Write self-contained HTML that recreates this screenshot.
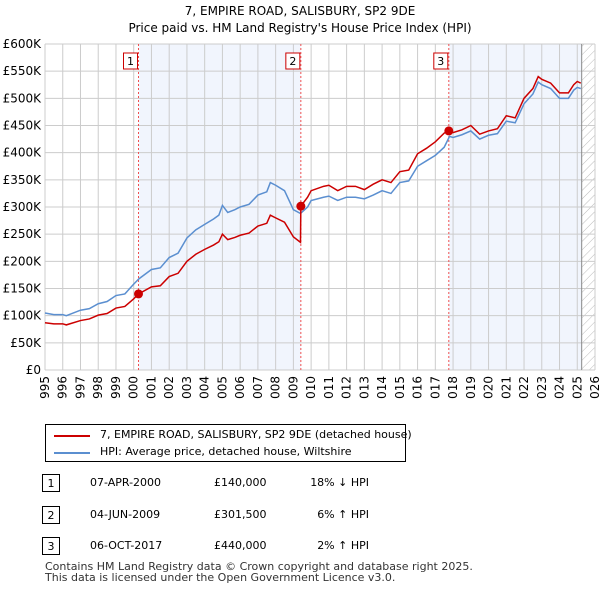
<!DOCTYPE html>
<html><head><meta charset="utf-8"><style>
body{margin:0;background:#fff;font-family:"DejaVu Sans","Liberation Sans",sans-serif;}
#wrap{position:relative;width:600px;height:590px;overflow:hidden}
.t{position:absolute;font-size:12px;color:#000;white-space:nowrap}
svg text{font-family:"DejaVu Sans","Liberation Sans",sans-serif}
</style></head><body>
<div id="wrap">
<svg id="chart" width="600" height="400" style="position:absolute;left:0;top:0">
<defs><pattern id="hatch" width="6" height="6" patternUnits="userSpaceOnUse" patternTransform="rotate(45)"><line x1="0" y1="0" x2="0" y2="6" stroke="#bbb" stroke-width="1"/></pattern></defs>
<text x="300" y="15" text-anchor="middle" font-size="12">7, EMPIRE ROAD, SALISBURY, SP2 9DE</text>
<text x="300" y="32" text-anchor="middle" font-size="12">Price paid vs. HM Land Registry's House Price Index (HPI)</text>
<g id="g"></g>
</svg>
<div style="position:absolute;left:45px;top:424px;width:361px;height:38px;border:1px solid #000;box-sizing:border-box">
 <div style="position:absolute;left:8px;top:10px;width:36px;height:2px;background:#cc0000"></div>
 <div class="t" style="left:54px;top:3px;font-size:11px">7, EMPIRE ROAD, SALISBURY, SP2 9DE (detached house)</div>
 <div style="position:absolute;left:8px;top:27px;width:36px;height:2px;background:#5b8fd0"></div>
 <div class="t" style="left:54px;top:20px;font-size:11px">HPI: Average price, detached house, Wiltshire</div>
</div>
<div id="tbl"></div>
<div class="t" style="left:45px;top:560px;font-size:11px;color:#333">Contains HM Land Registry data © Crown copyright and database right 2025.</div>
<div class="t" style="left:45px;top:571px;font-size:11px;color:#333">This data is licensed under the Open Government Licence v3.0.</div>
</div>
<script>
const yTicks=[0,50,100,150,200,250,300,350,400,450,500,550,600];
const yTickLabels=["£0","£50K","£100K","£150K","£200K","£250K","£300K","£350K","£400K","£450K","£500K","£550K","£600K"];
const xYears=[1995,1996,1997,1998,1999,2000,2001,2002,2003,2004,2005,2006,2007,2008,2009,2010,2011,2012,2013,2014,2015,2016,2017,2018,2019,2020,2021,2022,2023,2024,2025,2026];
const hpiT=[1995,1995.5,1996,1996.2,1997,1997.5,1998,1998.5,1999,1999.5,2000,2000.3,2001,2001.5,2002,2002.5,2003,2003.5,2004,2004.5,2004.8,2005,2005.3,2005.7,2006,2006.5,2007,2007.5,2007.7,2008,2008.5,2009,2009.4,2009.8,2010,2010.7,2011,2011.5,2012,2012.5,2013,2013.5,2014,2014.5,2015,2015.5,2016,2016.5,2017,2017.5,2017.8,2018,2018.5,2019,2019.5,2020,2020.5,2021,2021.5,2022,2022.5,2022.8,2023,2023.5,2024,2024.5,2024.8,2025,2025.2];
const hpiV=[105,102,102,100,110,113,122,126,137,140,158,168,185,188,207,215,243,258,268,278,285,303,290,295,300,305,322,328,345,340,330,295,288,300,312,318,320,312,318,318,315,322,330,325,345,348,375,385,395,410,430,428,433,440,425,432,435,458,455,490,508,530,525,518,500,500,515,520,518];
const redT=[1995,1995.5,1996,1996.2,1997,1997.5,1998,1998.5,1999,1999.5,2000,2000.27,2001,2001.5,2002,2002.5,2003,2003.5,2004,2004.5,2004.8,2005,2005.3,2005.7,2006,2006.5,2007,2007.5,2007.7,2008,2008.5,2009,2009.4,2009.42,2009.8,2010,2010.7,2011,2011.5,2012,2012.5,2013,2013.5,2014,2014.5,2015,2015.5,2016,2016.5,2017,2017.5,2017.76,2018,2018.5,2019,2019.5,2020,2020.5,2021,2021.5,2022,2022.5,2022.8,2023,2023.5,2024,2024.5,2024.8,2025,2025.2];
const redV=[87,85,85,83,91,94,101,104,114,117,131,140,153,155,172,178,200,213,222,230,236,250,240,244,248,252,265,270,285,280,272,245,235,301.5,318,330,338,340,330,338,338,332,342,350,345,365,368,398,408,420,436,440,437,442,450,434,440,444,468,464,500,518,540,535,528,510,510,525,531,528];
const saleT=[2000.27,2009.42,2017.76];
const saleV=[140,301.5,440];
const saleLabels=["1","2","3"];
const saleDates=["07-APR-2000","04-JUN-2009","06-OCT-2017"];
const salePrices=["£140,000","£301,500","£440,000"];
const saleHpi=["18% ↓ HPI","6% ↑ HPI","2% ↑ HPI"];
const L=45,R=595,T=44,B=370,dataEnd=2025.25;
const X=t=>L+(t-1995)/(2026-1995)*(R-L);
const Y=v=>B-v/600*(B-T);
const NS="http://www.w3.org/2000/svg";
const g=document.getElementById('g');
function mk(tag,attrs,name,parent){const e=document.createElementNS(NS,tag);for(const k in attrs)e.setAttribute(k,attrs[k]);


(parent||g).appendChild(e);return e;}
mk('rect',{x:L,y:T,width:R-L,height:B-T,fill:'#fff'},'plot-background');
mk('rect',{x:X(saleT[0]),y:T,width:X(saleT[1])-X(saleT[0]),height:B-T,fill:'#eef3fc',opacity:0.8},'shade-period-1');
mk('rect',{x:X(saleT[2]),y:T,width:X(dataEnd)-X(saleT[2]),height:B-T,fill:'#eef3fc',opacity:0.8},'shade-period-3');
mk('rect',{x:X(dataEnd),y:T,width:R-X(dataEnd),height:B-T,fill:'url(#hatch)'},'forecast-hatch');
xYears.forEach((yr,i)=>{mk('line',{x1:X(yr),x2:X(yr),y1:T,y2:B,stroke:'#ccc','stroke-width':1},'x-gridline');
const tx=mk('text',{x:0,y:0,'font-size':12,'text-anchor':'end',transform:`translate(${X(yr)+4},${B+6}) rotate(-90)`},'x-tick-label');tx.textContent=yr;});
yTicks.forEach((v,i)=>{mk('line',{x1:L,x2:R,y1:Y(v),y2:Y(v),stroke:'#ccc','stroke-width':1},'y-gridline');
const tx=mk('text',{x:L-4,y:Y(v)+4,'font-size':12,'text-anchor':'end'},'y-tick-label');tx.textContent=yTickLabels[i];});
mk('line',{x1:X(dataEnd),x2:X(dataEnd),y1:T,y2:B,stroke:'#888','stroke-width':1},'data-end-line');
saleT.forEach((t,i)=>{mk('line',{x1:X(t),x2:X(t),y1:T,y2:B,stroke:'#f05050','stroke-width':1,'stroke-dasharray':'2,2'},'sale-marker-line');});
mk('polyline',{points:hpiT.map((t,i)=>X(t)+','+Y(hpiV[i])).join(' '),fill:'none',stroke:'#5b8fd0','stroke-width':1.5},'hpi-line');
mk('polyline',{points:redT.map((t,i)=>X(t)+','+Y(redV[i])).join(' '),fill:'none',stroke:'#cc0000','stroke-width':1.5},'property-price-line');
saleT.forEach((t,i)=>{mk('circle',{cx:X(t),cy:Y(saleV[i]),r:4.5,fill:'#cc0000'},'sale-point');
mk('rect',{x:X(t)-15,y:53,width:14,height:16,fill:'#fff',stroke:'#cc0000'},'sale-badge');
const tx=mk('text',{x:X(t)-8,y:65,'font-size':11,'text-anchor':'middle'},'sale-badge-label');tx.textContent=saleLabels[i];});
const tbl=document.getElementById('tbl');
saleT.forEach((t,i)=>{const top=474+i*31.5;
const row=document.createElement('div');row.style.cssText=`position:absolute;left:0;top:${top}px;width:600px;height:20px`;


row.innerHTML=`<div style="position:absolute;left:42px;top:0;width:18px;height:18px;border:1px solid #000;box-sizing:border-box;font-size:11px;text-align:center;line-height:17px">${saleLabels[i]}</div>
<div class="t" style="left:90px;top:2px;font-size:11px">${saleDates[i]}</div>
<div class="t" style="left:214px;top:2px;font-size:11px">${salePrices[i]}</div>
<div class="t" style="left:290px;top:2px;width:79px;text-align:right;font-size:11px">${saleHpi[i]}</div>`;
tbl.appendChild(row);});
</script>
</body></html>
